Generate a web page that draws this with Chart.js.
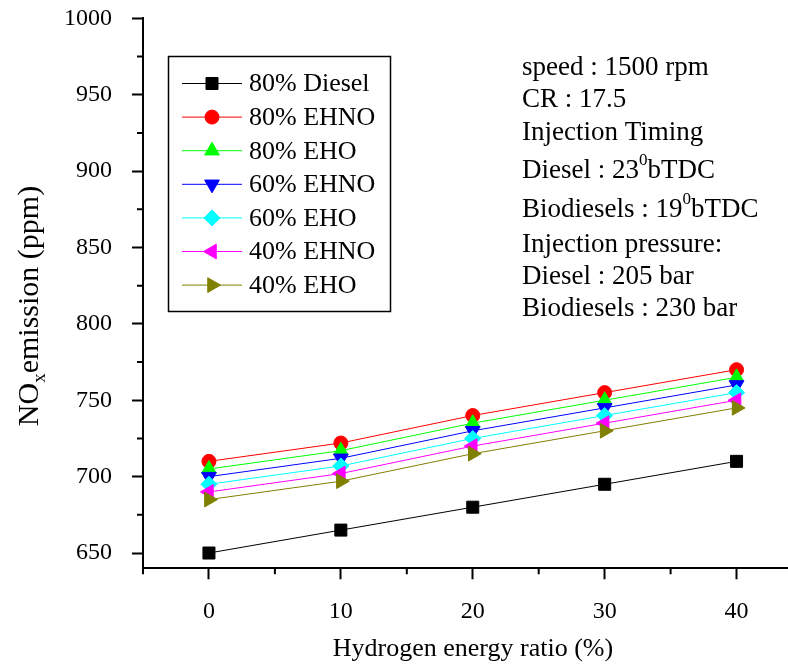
<!DOCTYPE html>
<html>
<head>
<meta charset="utf-8">
<title>NOx emission</title>
<script src="https://cdn.jsdelivr.net/npm/chart.js@4.4.0/dist/chart.umd.min.js"></script>
<style>
  html, body { margin: 0; padding: 0; background: #fff; overflow: hidden; }
  #wrap { width: 788px; height: 665px; overflow: hidden; }
</style>
</head>
<body>
<div id="wrap"><canvas id="noxChart" width="812" height="665" style="width:812px;height:665px"></canvas></div>
<script>
// data
const hydrogenRatio = [0, 10, 20, 30, 40];
const diesel80 = [650, 665, 680, 695, 710];
const ehno80 = [710, 722, 740, 755, 770];
const eho80 = [705, 717, 735, 750, 765];
const ehno60 = [700, 712, 730, 745, 760];
const eho60 = [695, 707, 725, 740, 755];
const ehno40 = [690, 702, 720, 735, 750];
const eho40 = [685, 697, 715, 730, 745];

const seriesNames = ["80% Diesel", "80% EHNO", "80% EHO", "60% EHNO", "60% EHO", "40% EHNO", "40% EHO"];
const seriesValues = [diesel80, ehno80, eho80, ehno60, eho60, ehno40, eho40];

const xTicks = [0, 10, 20, 30, 40];
const xMinorTicks = [-5, 5, 15, 25, 35, 45];
const yTicks = [650, 700, 750, 800, 850, 900, 950, 1000];
const yMinorTicks = [675, 725, 775, 825, 875, 925, 975];

const infoLines = [
  "speed : 1500 rpm",
  "CR : 17.5",
  "Injection Timing",
  "Diesel : 23^0bTDC",
  "Biodiesels : 19^0bTDC",
  "Injection pressure:",
  "Diesel : 205 bar",
  "Biodiesels : 230 bar",
];

// styles
const colors = ["#000000", "#ff0000", "#00ff00", "#0000ff", "#00ffff", "#ff00ff", "#808000"];
const markers = [
  { style: "rect", radius: 8.5, rotation: 0 },
  { style: "circle", radius: 7, rotation: 0 },
  { style: "triangle", radius: 8.5, rotation: 0 },
  { style: "triangle", radius: 8.5, rotation: 180 },
  { style: "rectRot", radius: 8, rotation: 0 },
  { style: "triangle", radius: 8.5, rotation: -90 },
  { style: "triangle", radius: 8.5, rotation: 90 },
];
const serif = "'Liberation Serif', 'Times New Roman', serif";

const datasets = seriesNames.map((name, i) => ({
  label: name,
  data: hydrogenRatio.map((x, j) => ({ x: x, y: seriesValues[i][j] })),
  borderColor: colors[i],
  backgroundColor: colors[i],
  borderWidth: 1,
  pointStyle: markers[i].style,
  pointRadius: markers[i].radius,
  pointRotation: markers[i].rotation,
  pointBackgroundColor: colors[i],
  pointBorderColor: colors[i],
  pointBorderWidth: 1,
  tension: 0,
  order: seriesNames.length - i, // later series on top
}));

function drawRich(ctx, text, x, y, size) {
  // "^0" marks a superscript character
  const parts = text.split("^");
  let cx = x;
  parts.forEach((part, k) => {
    let rest = part;
    if (k > 0) {
      ctx.font = Math.round(size * 0.62) + "px " + serif;
      ctx.fillText(part[0], cx, y - size * 0.38);
      cx += ctx.measureText(part[0]).width;
      rest = part.slice(1);
    }
    ctx.font = size + "px " + serif;
    ctx.fillText(rest, cx, y);
    cx += ctx.measureText(rest).width;
  });
}

function noPadding(scale) {
  scale.paddingTop = 0;
  scale.paddingBottom = 0;
  scale.paddingLeft = 0;
  scale.paddingRight = 0;
}

const decorPlugin = {
  id: "decor",
  afterDraw(chart) {
    const ctx = chart.ctx;
    const xs = chart.scales.x;
    const ys = chart.scales.y;
    const area = chart.chartArea;
    ctx.save();

    // minor ticks
    ctx.strokeStyle = "#000";
    ctx.lineWidth = 2;
    ctx.beginPath();
    xMinorTicks.forEach((v) => {
      const px = xs.getPixelForValue(v);
      ctx.moveTo(px, area.bottom);
      ctx.lineTo(px, area.bottom + 6);
    });
    yMinorTicks.forEach((v) => {
      const py = ys.getPixelForValue(v);
      ctx.moveTo(area.left - 6, py);
      ctx.lineTo(area.left, py);
    });
    ctx.stroke();

    // legend box
    ctx.fillStyle = "#fff";
    ctx.fillRect(168, 56, 223, 256);
    ctx.strokeStyle = "#000";
    ctx.lineWidth = 1.5;
    ctx.strokeRect(168.5, 56.5, 222, 255);
    seriesNames.forEach((name, i) => {
      const y = 83.5 + i * 33.6;
      ctx.strokeStyle = colors[i];
      ctx.lineWidth = 1;
      ctx.beginPath();
      ctx.moveTo(182, y);
      ctx.lineTo(242, y);
      ctx.stroke();
      const opts = chart.getDatasetMeta(i).data[0].options;
      ctx.fillStyle = opts.backgroundColor;
      ctx.strokeStyle = opts.borderColor;
      ctx.lineWidth = opts.borderWidth;
      Chart.helpers.drawPoint(ctx, opts, 212, y);
      ctx.fillStyle = "#000";
      ctx.font = "26px " + serif;
      ctx.textAlign = "left";
      ctx.textBaseline = "middle";
      ctx.fillText(name, 249, y + 1);
    });

    // run conditions text
    const infoY = [68, 100, 133, 171, 210, 245, 277, 309];
    ctx.fillStyle = "#000";
    ctx.textAlign = "left";
    ctx.textBaseline = "middle";
    infoLines.forEach((line, i) => drawRich(ctx, line, 522, infoY[i], 27));

    // axis titles
    ctx.textAlign = "center";
    ctx.textBaseline = "alphabetic";
    ctx.font = "26px " + serif;
    ctx.fillText("Hydrogen energy ratio (%)", 473, 656);

    ctx.translate(38, 306);
    ctx.rotate(-Math.PI / 2);
    ctx.textAlign = "left";
    const big = "30px " + serif;
    const small = "19px " + serif;
    ctx.font = big;
    const w1 = ctx.measureText("NO").width;
    const w3 = ctx.measureText("emission (ppm)").width;
    ctx.font = small;
    const w2 = ctx.measureText("x").width;
    let cx = -(w1 + w2 + w3) / 2;
    ctx.font = big;
    ctx.fillText("NO", cx, 0);
    cx += w1;
    ctx.font = small;
    ctx.fillText("x", cx, 7);
    cx += w2;
    ctx.font = big;
    ctx.fillText("emission (ppm)", cx, 0);
    ctx.restore();
  },
};

new Chart(document.getElementById("noxChart").getContext("2d"), {
  type: "line",
  data: { datasets: datasets },
  plugins: [decorPlugin],
  options: {
    responsive: false,
    animation: false,
    layout: { padding: { left: 0, right: 9.4, top: 18.3, bottom: 0 } },
    plugins: {
      legend: { display: false },
      tooltip: { enabled: false },
    },
    scales: {
      x: {
        type: "linear",
        min: -5,
        max: 45,
        afterBuildTicks: (scale) => {
          scale.ticks = xTicks.map((v) => ({ value: v }));
        },
        afterFit: (scale) => {
          scale.height = 96.7;
          noPadding(scale);
        },
        ticks: {
          color: "#000",
          font: { family: serif, size: 24 },
          padding: 18,
          maxRotation: 0,
          autoSkip: false,
          callback: (v) => String(v),
        },
        grid: {
          drawOnChartArea: false,
          drawTicks: true,
          tickLength: 11,
          tickWidth: 2,
          tickColor: "#000",
        },
        border: { color: "#000", width: 2 },
      },
      y: {
        min: 640,
        max: 1000,
        afterBuildTicks: (scale) => {
          scale.ticks = yTicks.map((v) => ({ value: v }));
        },
        afterFit: (scale) => {
          scale.width = 143;
          noPadding(scale);
        },
        ticks: {
          color: "#000",
          font: { family: serif, size: 24 },
          padding: 20,
          autoSkip: false,
          callback: (v) => String(v),
        },
        grid: {
          drawOnChartArea: false,
          drawTicks: true,
          tickLength: 11,
          tickWidth: 2,
          tickColor: "#000",
        },
        border: { color: "#000", width: 2 },
      },
    },
  },
});
</script>
</body>
</html>
